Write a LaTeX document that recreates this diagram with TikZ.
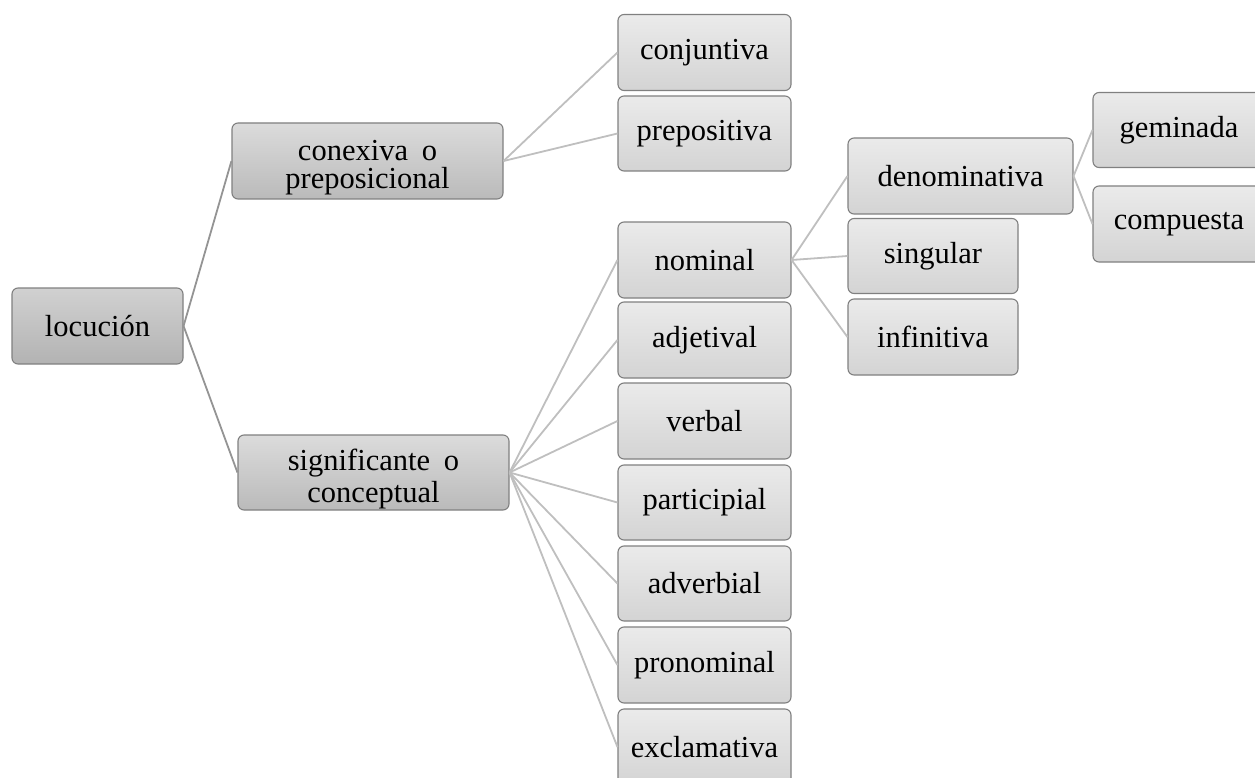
\documentclass[tikz,border=0pt]{standalone}
\usepackage{fontspec}
\setmainfont{Liberation Serif}
\begin{document}
\begin{tikzpicture}[x=1pt,y=-1pt,
  box/.style={draw=black!50, line width=1.1pt, rounded corners=6pt, inner sep=0pt,
    align=center, text=black, font=\fontsize{30.5}{25}\selectfont, minimum height=76pt},
  lv0/.style={box, top color=black!18, bottom color=black!30},
  lv1/.style={box, top color=black!14, bottom color=black!27},
  lv2/.style={box, top color=black!8, bottom color=black!17},
  link0/.style={draw=black!42, line width=1.8pt},
  link/.style={draw=black!25, line width=1.8pt}]
\useasboundingbox (0,0) rectangle (1255,778);
\node[lv0, minimum width=171pt] (loc) at (97.5,326) {locución};
\node[lv1, minimum width=271pt] (con) at (367.5,161) {\rule{0pt}{34pt}conexiva\hspace{0.45em}o\\[3pt]preposicional};
\node[lv1, minimum width=271pt, minimum height=75pt] (sig) at (373.5,472.5) {\rule{0pt}{34pt}significante\hspace{0.45em}o\\[3pt]conceptual};
\node[lv2, minimum width=173pt] (conj) at (704.5,52.5) {conjuntiva};
\node[lv2, minimum width=173pt, minimum height=75pt] (prep) at (704.5,133.5) {prepositiva};
\node[lv2, minimum width=173pt] (nom) at (704.5,260) {nominal};
\node[lv2, minimum width=173pt] (adj) at (704.5,340) {adjetival};
\node[lv2, minimum width=173pt] (verb) at (704.5,421) {verbal};
\node[lv2, minimum width=173pt, minimum height=75pt] (part) at (704.5,502.5) {participial};
\node[lv2, minimum width=173pt, minimum height=75pt] (adv) at (704.5,583.5) {adverbial};
\node[lv2, minimum width=173pt] (pron) at (704.5,665) {pronominal};
\node[lv2, minimum width=173pt] (excl) at (704.5,747) {exclamativa};
\node[lv2, minimum width=225pt] (den) at (960.5,176) {denominativa};
\node[lv2, minimum width=170pt, minimum height=75pt] (sing) at (933,256) {singular};
\node[lv2, minimum width=170pt] (inf) at (933,337) {infinitiva};
\node[lv2, minimum width=172pt, minimum height=75pt] (gem) at (1179,130) {geminada};
\node[lv2, minimum width=172pt] (comp) at (1179,224) {compuesta};
\draw[link0] (loc.east) -- (con.west);
\draw[link0] (loc.east) -- (sig.west);
\draw[link] (con.east) -- (conj.west);
\draw[link] (con.east) -- (prep.west);
\foreach \c in {nom,adj,verb,part,adv,pron,excl}{\draw[link] (sig.east) -- (\c.west);}
\draw[link] (nom.east) -- (den.west);
\draw[link] (nom.east) -- (sing.west);
\draw[link] (nom.east) -- (inf.west);
\draw[link] (den.east) -- (gem.west);
\draw[link] (den.east) -- (comp.west);
\end{tikzpicture}
\end{document}
